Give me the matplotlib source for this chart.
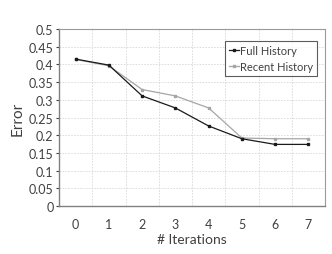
import matplotlib.pyplot as plt

iterations = [0, 1, 2, 3, 4, 5, 6, 7]
full_history = [0.415, 0.398, 0.311, 0.277, 0.226, 0.190, 0.174, 0.174]
recent_history = [0.414, 0.396, 0.329, 0.311, 0.277, 0.192, 0.190, 0.190]
y_ticks = [0, 0.05, 0.1, 0.15, 0.2, 0.25, 0.3, 0.35, 0.4, 0.45, 0.5]
y_labels = ['0', '0.05', '0.1', '0.15', '0.2', '0.25', '0.3', '0.35', '0.4', '0.45', '0.5']

plt.rcParams['font.family'] = ['Lato', 'DejaVu Sans']

fig = plt.figure(figsize=(3.32, 2.55), dpi=100)
ax = fig.add_axes([59/332, 1 - 207/255, 266/332, 177/255])

ax.plot(iterations, full_history, color='#1a1a1a', marker='s', markersize=2.0,
        linewidth=0.9, label='Full History', zorder=3)
ax.plot(iterations, recent_history, color='#a6a6a6', marker='s', markersize=1.8,
        linewidth=0.9, label='Recent History', zorder=2)

ax.set_xlim(-0.5, 7.5)
ax.set_ylim(0, 0.5)
ax.set_xticks(iterations)
ax.set_yticks(y_ticks)
ax.set_yticklabels(y_labels)
ax.set_xticks([i + 0.5 for i in range(-1, 8)], minor=True)
ax.tick_params(axis='x', which='both', length=0, labelsize=9, colors='#404040', pad=9)
ax.tick_params(axis='y', length=2, labelsize=9, colors='#404040', pad=2)
ax.grid(axis='y', which='major', color='#d8d8d8', linestyle=(0, (2, 1.5)), linewidth=0.6)
ax.grid(axis='x', which='minor', color='#d8d8d8', linestyle=(0, (2, 1.5)), linewidth=0.6)

for s in ['top', 'right']:
    ax.spines[s].set_color('#9a9a9a')
    ax.spines[s].set_linewidth(0.8)
for s in ['left', 'bottom']:
    ax.spines[s].set_color('#808080')
    ax.spines[s].set_linewidth(1.0)

ax.set_xlabel('# Iterations', fontsize=10, color='#404040', labelpad=2)
ax.set_ylabel('Error', fontsize=11, color='#404040', labelpad=3)

leg = ax.legend(loc='upper right', bbox_to_anchor=(0.97, 0.93), fontsize=8,
                frameon=True, fancybox=False, handlelength=0.9, handletextpad=0.1,
                borderpad=0.35, labelspacing=0.45, borderaxespad=0)
leg.get_frame().set_edgecolor('#333333')
leg.get_frame().set_linewidth(0.8)
for t in leg.get_texts():
    t.set_color('#404040')

plt.savefig('out.png', dpi=100)
